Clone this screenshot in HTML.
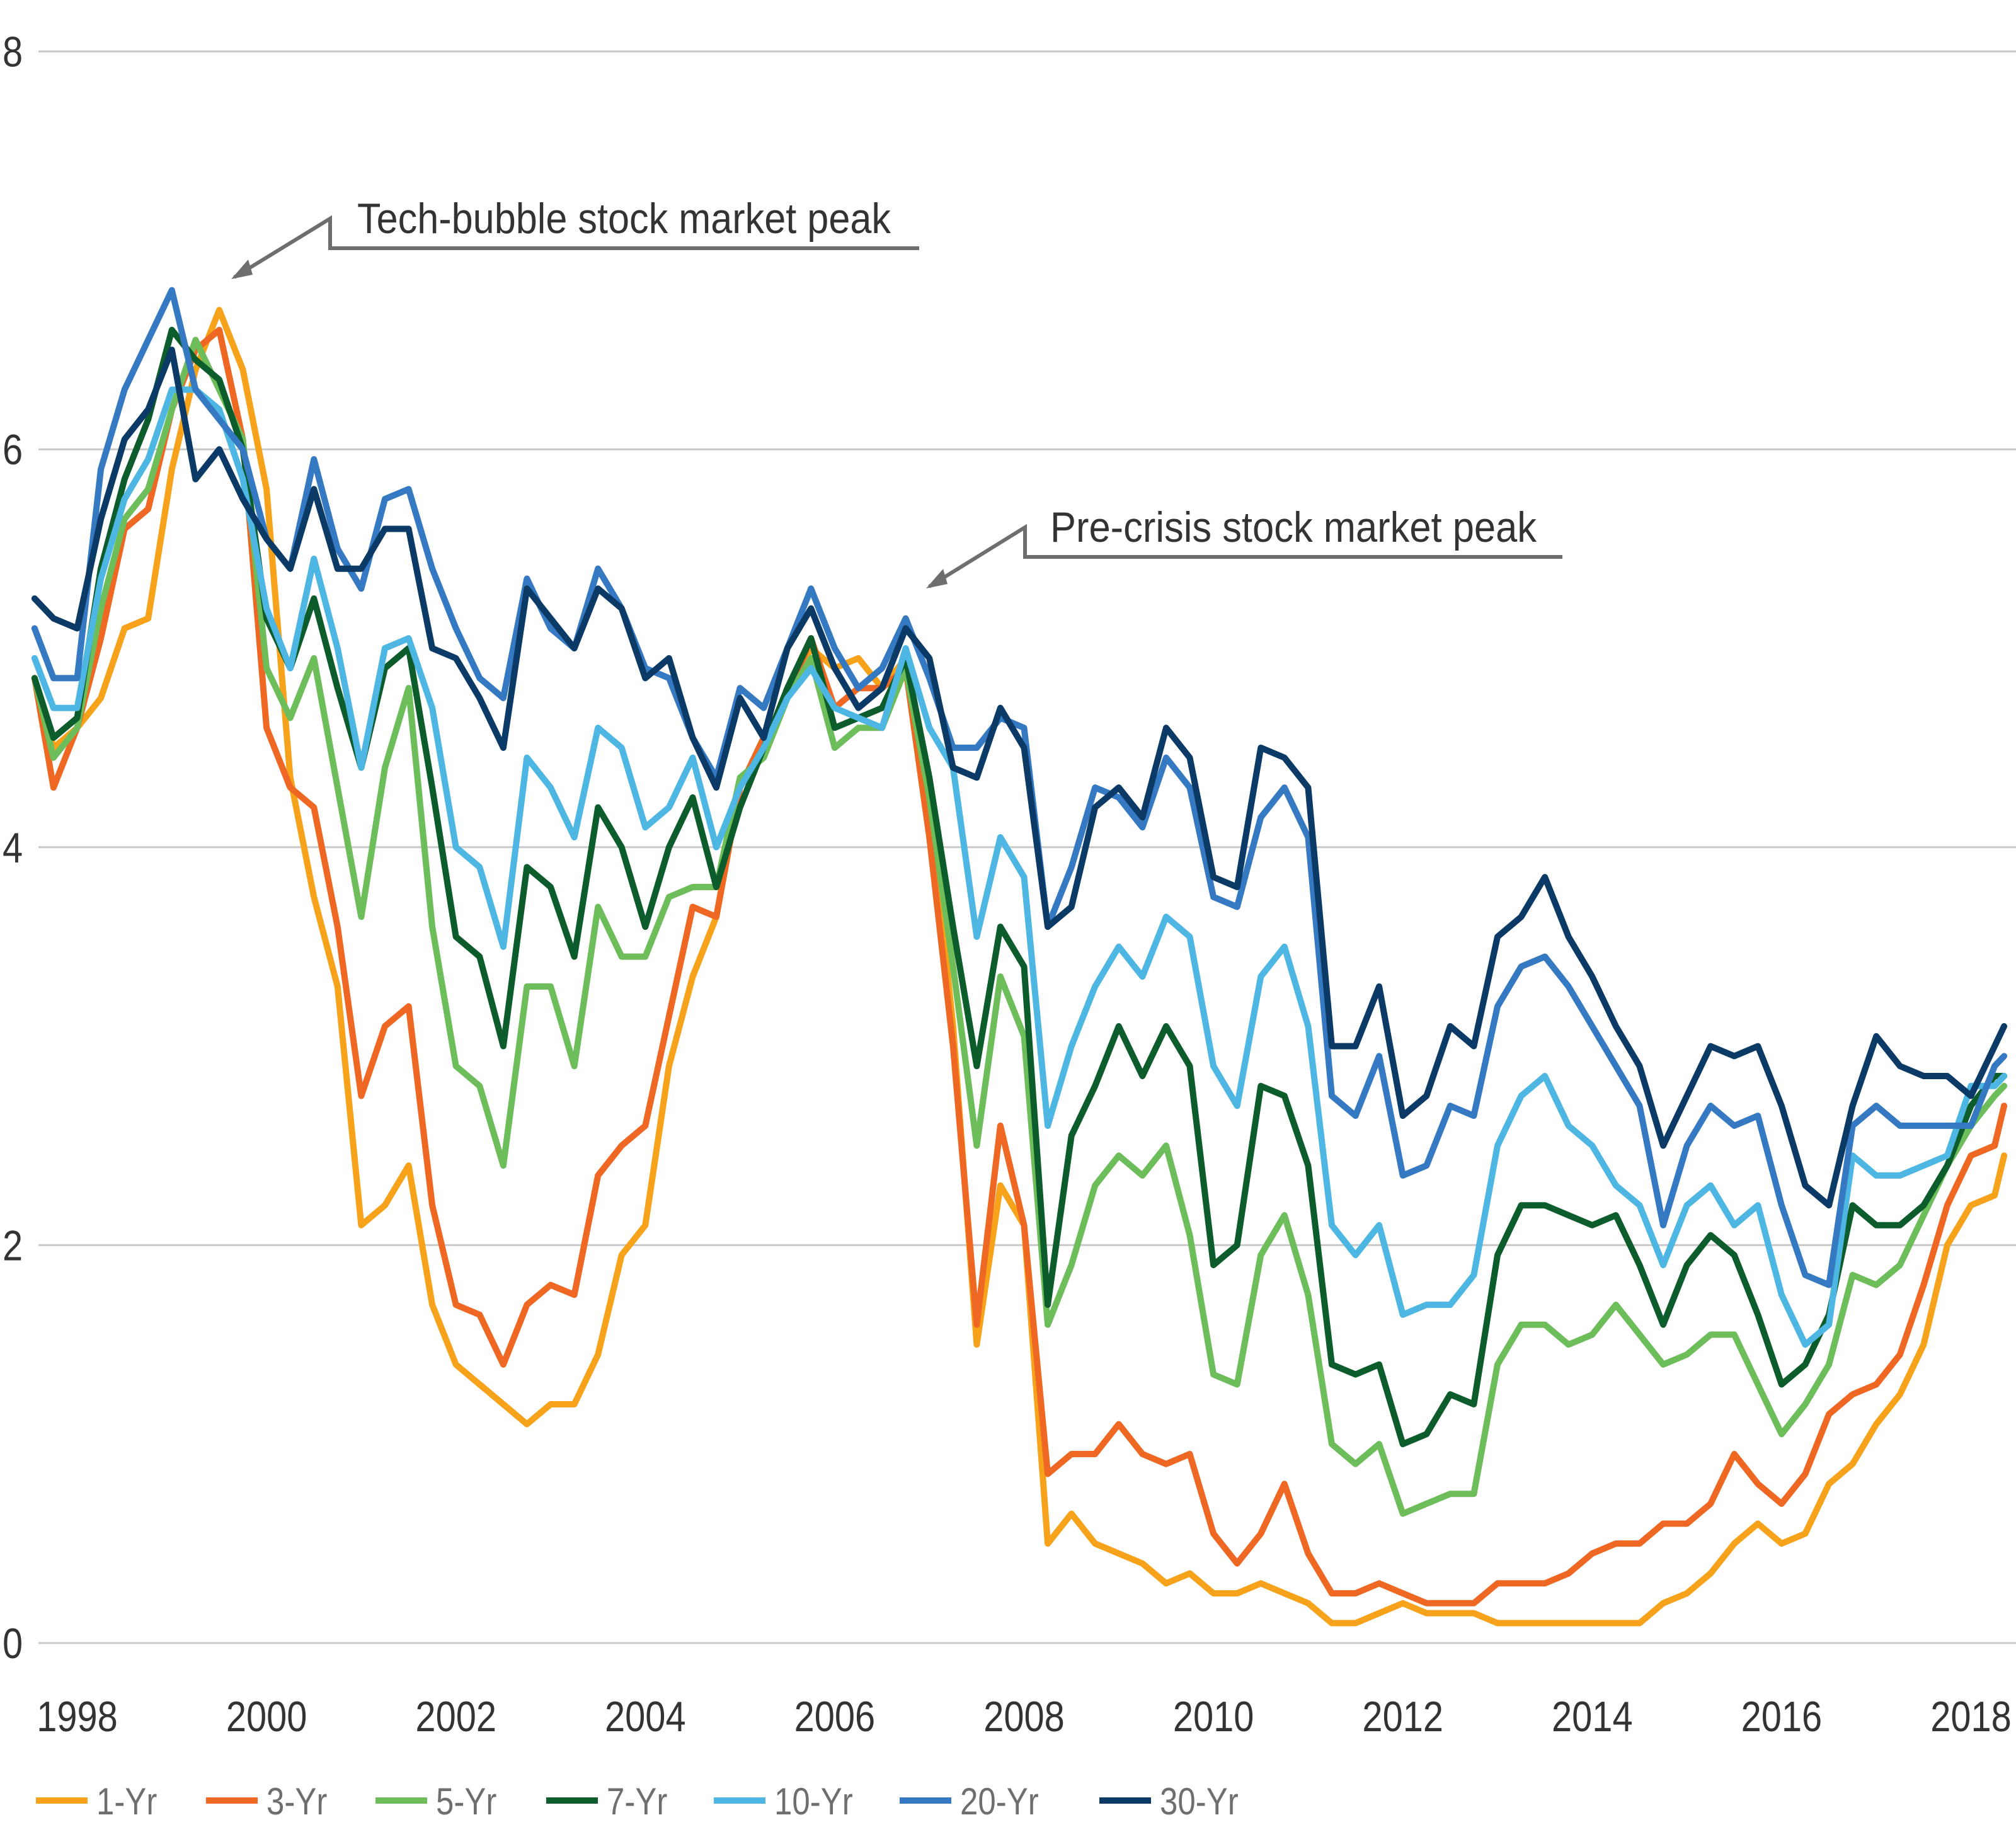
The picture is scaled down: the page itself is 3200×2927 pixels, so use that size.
<!DOCTYPE html>
<html><head><meta charset="utf-8"><style>
html,body{margin:0;padding:0;background:#fff;}
svg{display:block;font-family:"Liberation Sans Narrow","Liberation Sans",sans-serif;}
</style></head><body>
<svg id="chart" width="3200" height="2927" viewBox="0 0 3200 2927" xmlns="http://www.w3.org/2000/svg">
<g id="grid"></g>
<g id="yticks"></g>
<g id="xticks"></g>
<g id="series"></g>
<g>
<polyline points="1459,394 524,394 524,347 372,440" fill="none" stroke="#6d6e70" stroke-width="6"/>
<polygon points="367,443 394,412 401,436" fill="#6d6e70"/>
<text x="567" y="370" font-size="68" fill="#333" textLength="847" lengthAdjust="spacingAndGlyphs">Tech-bubble stock market peak</text>
</g>
<g>
<polyline points="2480,884 1627,884 1627,837 1475,931" fill="none" stroke="#6d6e70" stroke-width="6"/>
<polygon points="1470,934 1497,903 1504,927" fill="#6d6e70"/>
<text x="1667" y="860" font-size="68" fill="#333" textLength="772" lengthAdjust="spacingAndGlyphs">Pre-crisis stock market peak</text>
</g>
<g id="legend"></g>
</svg>
<script>
const dates=[1997.55,1997.75,1998,1998.25,1998.5,1998.75,1999,1999.25,1999.5,1999.75,2000,2000.25,2000.5,2000.75,2001,2001.25,2001.5,2001.75,2002,2002.25,2002.5,2002.75,2003,2003.25,2003.5,2003.75,2004,2004.25,2004.5,2004.75,2005,2005.25,2005.5,2005.75,2006,2006.25,2006.5,2006.75,2007,2007.25,2007.5,2007.75,2008,2008.25,2008.5,2008.75,2009,2009.25,2009.5,2009.75,2010,2010.25,2010.5,2010.75,2011,2011.25,2011.5,2011.75,2012,2012.25,2012.5,2012.75,2013,2013.25,2013.5,2013.75,2014,2014.25,2014.5,2014.75,2015,2015.25,2015.5,2015.75,2016,2016.25,2016.5,2016.75,2017,2017.25,2017.5,2017.75,2018,2018.25,2018.35];
const yr1=[4.85,4.5,4.6,4.75,5.1,5.15,5.9,6.4,6.7,6.4,5.8,4.35,3.75,3.3,2.1,2.2,2.4,1.7,1.4,1.3,1.2,1.1,1.2,1.2,1.45,1.95,2.1,2.9,3.35,3.65,4.3,4.55,4.75,5.0,4.9,4.95,4.8,4.95,4.25,3.1,1.5,2.3,2.1,0.5,0.65,0.5,0.45,0.4,0.3,0.35,0.25,0.25,0.3,0.25,0.2,0.1,0.1,0.15,0.2,0.15,0.15,0.15,0.1,0.1,0.1,0.1,0.1,0.1,0.1,0.2,0.25,0.35,0.5,0.6,0.5,0.55,0.8,0.9,1.1,1.25,1.5,2.0,2.2,2.25,2.45];
const yr3=[4.85,4.3,4.6,5.05,5.6,5.7,6.2,6.5,6.6,6.05,4.6,4.3,4.2,3.6,2.75,3.1,3.2,2.2,1.7,1.65,1.4,1.7,1.8,1.75,2.35,2.5,2.6,3.15,3.7,3.65,4.3,4.55,4.75,5.05,4.7,4.8,4.8,4.9,4.05,3.0,1.6,2.6,2.1,0.85,0.95,0.95,1.1,0.95,0.9,0.95,0.55,0.4,0.55,0.8,0.45,0.25,0.25,0.3,0.25,0.2,0.2,0.2,0.3,0.3,0.3,0.35,0.45,0.5,0.5,0.6,0.6,0.7,0.95,0.8,0.7,0.85,1.15,1.25,1.3,1.45,1.8,2.2,2.45,2.5,2.7];
const yr5=[4.85,4.45,4.6,5.2,5.65,5.8,6.2,6.55,6.3,6.05,4.9,4.65,4.95,4.3,3.65,4.4,4.8,3.6,2.9,2.8,2.4,3.3,3.3,2.9,3.7,3.45,3.45,3.75,3.8,3.8,4.35,4.45,4.75,4.95,4.5,4.6,4.6,4.9,4.25,3.4,2.5,3.35,3.05,1.6,1.9,2.3,2.45,2.35,2.5,2.05,1.35,1.3,1.95,2.15,1.75,1.0,0.9,1.0,0.65,0.7,0.75,0.75,1.4,1.6,1.6,1.5,1.55,1.7,1.55,1.4,1.45,1.55,1.55,1.3,1.05,1.2,1.4,1.85,1.8,1.9,2.15,2.4,2.6,2.75,2.8];
const yr7=[4.85,4.55,4.65,5.4,5.85,6.15,6.6,6.45,6.35,6.0,5.15,4.9,5.25,4.8,4.4,4.9,5.0,4.3,3.55,3.45,3.0,3.9,3.8,3.45,4.2,4.0,3.6,4.0,4.25,3.8,4.2,4.5,4.8,5.05,4.6,4.65,4.7,4.95,4.35,3.6,2.9,3.6,3.4,1.7,2.55,2.8,3.1,2.85,3.1,2.9,1.9,2.0,2.8,2.75,2.4,1.4,1.35,1.4,1.0,1.05,1.25,1.2,1.95,2.2,2.2,2.15,2.1,2.15,1.9,1.6,1.9,2.05,1.95,1.65,1.3,1.4,1.65,2.2,2.1,2.1,2.2,2.4,2.7,2.85,2.85];
const yr10=[4.95,4.7,4.7,5.35,5.75,5.95,6.3,6.3,6.2,5.85,5.2,4.9,5.45,5.0,4.4,5.0,5.05,4.7,4.0,3.9,3.5,4.45,4.3,4.05,4.6,4.5,4.1,4.2,4.45,4.0,4.3,4.5,4.75,4.9,4.7,4.65,4.6,5.0,4.6,4.4,3.55,4.05,3.85,2.6,3.0,3.3,3.5,3.35,3.65,3.55,2.9,2.7,3.35,3.5,3.1,2.1,1.95,2.1,1.65,1.7,1.7,1.85,2.5,2.75,2.85,2.6,2.5,2.3,2.2,1.9,2.2,2.3,2.1,2.2,1.75,1.5,1.6,2.45,2.35,2.35,2.4,2.45,2.8,2.8,2.85];
const yr20=[5.1,4.85,4.85,5.9,6.3,6.55,6.8,6.3,6.15,6.0,5.55,5.4,5.95,5.5,5.3,5.75,5.8,5.4,5.1,4.85,4.75,5.35,5.1,5.0,5.4,5.2,4.9,4.85,4.55,4.35,4.8,4.7,5.0,5.3,5.0,4.8,4.9,5.15,4.85,4.5,4.5,4.65,4.6,3.6,3.9,4.3,4.25,4.1,4.45,4.3,3.75,3.7,4.15,4.3,4.05,2.75,2.65,2.95,2.35,2.4,2.7,2.65,3.2,3.4,3.45,3.3,3.1,2.9,2.7,2.1,2.5,2.7,2.6,2.65,2.2,1.85,1.8,2.6,2.7,2.6,2.6,2.6,2.6,2.9,2.95];
const yr30=[5.25,5.15,5.1,5.65,6.05,6.2,6.5,5.85,6.0,5.75,5.55,5.4,5.8,5.4,5.4,5.6,5.6,5.0,4.95,4.75,4.5,5.3,5.15,5.0,5.3,5.2,4.85,4.95,4.55,4.3,4.75,4.55,5.0,5.2,4.9,4.7,4.8,5.1,4.95,4.4,4.35,4.7,4.5,3.6,3.7,4.2,4.3,4.15,4.6,4.45,3.85,3.8,4.5,4.45,4.3,3.0,3.0,3.3,2.65,2.75,3.1,3.0,3.55,3.65,3.85,3.55,3.35,3.1,2.9,2.5,2.75,3.0,2.95,3.0,2.7,2.3,2.2,2.7,3.05,2.9,2.85,2.85,2.75,3.0,3.1];
const seriesNames=['1-Yr','3-Yr','5-Yr','7-Yr','10-Yr','20-Yr','30-Yr'];
const seriesValues=[yr1,yr3,yr5,yr7,yr10,yr20,yr30];
const seriesColors=['#f7a21b','#ee6823','#6dbd5b','#0d5c2c','#4db6e2','#3479c1','#0b3a66'];
const yTicks=[0,2,4,6,8];
const xTicks=[1998,2000,2002,2004,2006,2008,2010,2012,2014,2016,2018];

const NS='http://www.w3.org/2000/svg';
function xScale(t){return 122.5+(t-1998)*150.3;}
function yScale(v){return 2608-v*315.8;}
function mk(tag,attrs,parent){const e=document.createElementNS(NS,tag);for(const k in attrs)e.setAttribute(k,attrs[k]);parent.appendChild(e);return e;}

const grid=document.getElementById('grid');
const yg=document.getElementById('yticks');
yTicks.forEach(v=>{
  const l=mk('line',{x1:61,x2:3200,y1:yScale(v),y2:yScale(v),stroke:'#c8c8c8','stroke-width':3},grid);
  
  
  const t=mk('text',{x:0,y:0,'font-size':68,fill:'#333',transform:'translate(4,'+(yScale(v)+24)+') scale(0.85,1)'},yg);
  
  
  t.textContent=v;
});
const xg=document.getElementById('xticks');
xTicks.forEach(yv=>{
  const t=mk('text',{x:0,y:0,'font-size':68,fill:'#333','text-anchor':'middle',transform:'translate('+xScale(yv)+',2748) scale(0.85,1)'},xg);
  
  
  t.textContent=yv;
});
const sg=document.getElementById('series');
seriesValues.forEach((vals,i)=>{
  const pts=vals.map((v,j)=>xScale(dates[j]).toFixed(1)+','+yScale(v).toFixed(1)).join(' ');
  const p=mk('polyline',{points:pts,fill:'none',stroke:seriesColors[i],'stroke-width':10,'stroke-linejoin':'round','stroke-linecap':'round'},sg);
  
  
});
const lg=document.getElementById('legend');
const legX=[57,327,596,867,1133,1428,1745];
seriesNames.forEach((n,i)=>{
  const g=mk('g',{},lg);
  
  
  mk('line',{x1:legX[i],x2:legX[i]+82,y1:2858,y2:2858,stroke:seriesColors[i],'stroke-width':10},g);
  const t=mk('text',{x:0,y:0,'font-size':60,fill:'#6d6e70',transform:'translate('+(legX[i]+96)+',2880) scale(0.85,1)'},g);
  t.textContent=n;
});
</script>
</body></html>
